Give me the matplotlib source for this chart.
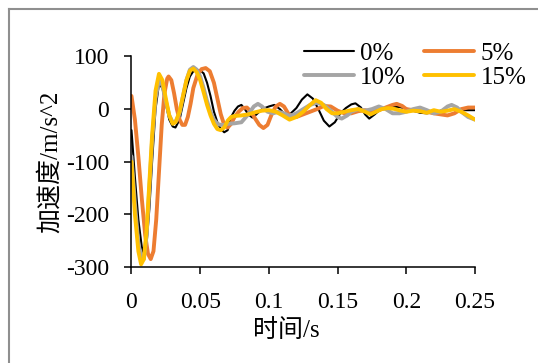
import matplotlib.pyplot as plt
from matplotlib.lines import Line2D

plt.rcParams['font.family'] = ['Liberation Serif', 'Noto Sans CJK SC']
plt.rcParams['axes.unicode_minus'] = False

# ---------------- acceleration records (time in s, accel in m/s^2) ----------------
t_0 = [0, 0.0025, 0.005, 0.0075, 0.009, 0.011, 0.013, 0.015, 0.0175, 0.020, 0.0225, 0.025,
       0.0275, 0.030, 0.032, 0.035, 0.0375, 0.040, 0.0425, 0.045, 0.0475, 0.050, 0.0525,
       0.055, 0.0575, 0.060, 0.0625, 0.065, 0.0675, 0.070, 0.0725, 0.075, 0.0775, 0.080,
       0.0825, 0.085, 0.088, 0.091, 0.095, 0.100, 0.104, 0.108, 0.112, 0.116, 0.120, 0.124,
       0.128, 0.132, 0.136, 0.140, 0.144, 0.148, 0.152, 0.156, 0.160, 0.163, 0.167, 0.170,
       0.173, 0.177, 0.180, 0.185, 0.190, 0.195, 0.200, 0.205, 0.210, 0.215, 0.220, 0.225,
       0.230, 0.235, 0.240, 0.245, 0.250]
a_0 = [-40, -130, -210, -262, -275, -255, -190, -100, 0, 48, 40, 10,
       -20, -33, -35, -20, 10, 40, 62, 72, 74, 73, 68,
       50, 25, -5, -25, -38, -44, -40, -15, -3, 5, 8,
       0, -10, -16, -10, 0, 5, 8, 0, -11, -8, 2, 18,
       28, 20, 0, -22, -33, -25, -8, 2, 9, 11, 3, -10,
       -18, -10, -3, 2, 4, 4, 1, -3, -7, -8, -6, -3,
       -2, -1, -2, -2, -2]

t_5 = [0, 0.0025, 0.005, 0.0075, 0.010, 0.012, 0.014, 0.016, 0.018, 0.020, 0.022, 0.024,
       0.026, 0.027, 0.029, 0.031, 0.033, 0.035, 0.037, 0.039, 0.041, 0.043, 0.045, 0.048,
       0.051, 0.054, 0.057, 0.060, 0.0625, 0.065, 0.0675, 0.070, 0.0725, 0.075, 0.078,
       0.081, 0.084, 0.087, 0.090, 0.093, 0.096, 0.099, 0.102, 0.105, 0.108, 0.111, 0.114,
       0.117, 0.120, 0.125, 0.130, 0.135, 0.140, 0.145, 0.150, 0.155, 0.160, 0.165, 0.170,
       0.175, 0.180, 0.185, 0.190, 0.193, 0.197, 0.200, 0.205, 0.210, 0.215, 0.220, 0.225,
       0.230, 0.235, 0.240, 0.245, 0.250]
a_5 = [25, -20, -90, -170, -240, -275, -285, -270, -210, -120, -30, 30,
       58, 62, 55, 30, 0, -20, -30, -30, -15, 10, 40, 65,
       76, 78, 72, 50, 20, -10, -30, -35, -28, -15, -5,
       2, 3, -5, -18, -30, -36, -30, -10, 5, 10, 5, -8,
       -15, -15, -10, -5, 0, 6, 5, -3, -8, -8, -4, -2,
       -5, -2, 3, 8, 10, 6, 0, -2, -3, -5, -8, -10,
       -12, -8, 0, 3, 3]

t_10 = [0, 0.0025, 0.005, 0.0075, 0.009, 0.011, 0.013, 0.015, 0.0175, 0.020, 0.0225, 0.025,
        0.0275, 0.030, 0.032, 0.035, 0.0375, 0.040, 0.0425, 0.045, 0.0475, 0.050, 0.0525,
        0.055, 0.0575, 0.060, 0.0625, 0.065, 0.0675, 0.070, 0.075, 0.080, 0.085, 0.089,
        0.092, 0.095, 0.099, 0.103, 0.107, 0.111, 0.115, 0.120, 0.125, 0.130, 0.135, 0.140,
        0.145, 0.150, 0.153, 0.157, 0.160, 0.165, 0.170, 0.175, 0.180, 0.185, 0.190, 0.195,
        0.200, 0.205, 0.210, 0.215, 0.220, 0.225, 0.230, 0.233, 0.237, 0.240, 0.245, 0.250]
a_10 = [-90, -180, -255, -288, -285, -240, -150, -60, 20, 55, 45, 15,
        -12, -25, -25, -8, 25, 55, 75, 80, 75, 62, 40,
        15, -5, -20, -28, -30, -30, -28, -27, -25, -10, 5,
        10, 5, -5, -8, -5, -8, -13, -8, 0, 8, 12, 8,
        -3, -15, -18, -12, -5, 0, -3, 0, 5, 0, -8, -8,
        -5, 0, 3, -2, -8, -5, 5, 8, 3, -5, -15, -20]

t_15 = [0, 0.0025, 0.005, 0.007, 0.009, 0.011, 0.013, 0.015, 0.0175, 0.020, 0.0225, 0.025,
        0.0275, 0.030, 0.032, 0.035, 0.0375, 0.040, 0.0425, 0.045, 0.0475, 0.050, 0.0525,
        0.055, 0.0575, 0.060, 0.0625, 0.065, 0.0675, 0.070, 0.0725, 0.075, 0.080, 0.085,
        0.090, 0.095, 0.100, 0.105, 0.110, 0.115, 0.120, 0.125, 0.130, 0.134, 0.138, 0.142,
        0.146, 0.150, 0.155, 0.160, 0.165, 0.170, 0.174, 0.178, 0.182, 0.187, 0.192, 0.196,
        0.200, 0.205, 0.210, 0.215, 0.220, 0.225, 0.230, 0.235, 0.240, 0.245, 0.250]
a_15 = [-100, -200, -270, -295, -285, -230, -140, -50, 35, 67, 55, 20,
        -12, -28, -25, -5, 25, 55, 73, 77, 70, 55, 32,
        8, -12, -28, -38, -40, -35, -22, -15, -13, -12, -10,
        -6, -3, -2, -5, -12, -20, -15, -5, 8, 17, 12, 0,
        -8, -8, -5, -2, 0, -5, -10, -5, 0, 2, 0, -3,
        -5, -3, -4, -7, -2, -5, -3, 0, -5, -12, -20]

labels = ['0%', '5%', '10%', '15%']
colors = ['#000000', '#ED7D31', '#A5A5A5', '#FFC000']
widths = [1.5, 2.8, 2.8, 2.8]
series = [(t_0, a_0), (t_5, a_5), (t_10, a_10), (t_15, a_15)]

fig = plt.figure(figsize=(5.38, 3.63), dpi=100)
ax = fig.add_axes([0.2444, 0.2645, 0.8829 - 0.2444, 0.8444 - 0.2645])

handles = []
for (t, a), lab, c, lw in zip(series, labels, colors, widths):
    h, = ax.plot(t, a, color=c, lw=lw, label=lab, solid_joinstyle='round',
                 solid_capstyle='round')
    handles.append(h)

ax.set_xlim(0, 0.25)
ax.set_ylim(-300, 100)
ax.set_xticks([0, 0.05, 0.1, 0.15, 0.2, 0.25])
ax.set_xticklabels(['0', '0.05', '0.1', '0.15', '0.2', '0.25'])
ax.set_yticks([-300, -200, -100, 0, 100])
ax.set_yticklabels(['-300', '-200', '-100', '0', '100'])

for side in ['top', 'right']:
    ax.spines[side].set_visible(False)
for side in ['left', 'bottom']:
    ax.spines[side].set_linewidth(1.1)
ax.tick_params(axis='both', direction='out', length=5, width=1.1, labelsize=17)
ax.tick_params(axis='y', pad=11)
ax.tick_params(axis='x', pad=13)

fig.text(286 / 538, 1 - 331 / 363, '时间/s', fontsize=18, ha='center', va='center')
fig.text(50 / 538, 1 - 162 / 363, '加速度/m/s^2', fontsize=18, ha='center', va='center',
         rotation=90)

# legend fills column by column, so order handles to read 0%,5% / 10%,15% by row
order = [0, 2, 1, 3]
leg = ax.legend([handles[i] for i in order], [labels[i] for i in order],
                ncol=2, frameon=False, fontsize=18, loc='center',
                bbox_to_anchor=(415 / 538, 1 - 65.5 / 363), bbox_transform=fig.transFigure,
                handlelength=2.0, handletextpad=0.25, columnspacing=0.75,
                labelspacing=0.05, borderpad=0, borderaxespad=0)

# chart area outline (runs off the right and bottom edges)
fig.add_artist(Line2D([9 / 538, 9 / 538], [1 - 9 / 363, 0], transform=fig.transFigure,
                      color='#8f8f8f', lw=1.5))
fig.add_artist(Line2D([9 / 538, 1], [1 - 9 / 363, 1 - 9 / 363], transform=fig.transFigure,
                      color='#8f8f8f', lw=1.5))

fig.savefig('out.png', dpi=100)
